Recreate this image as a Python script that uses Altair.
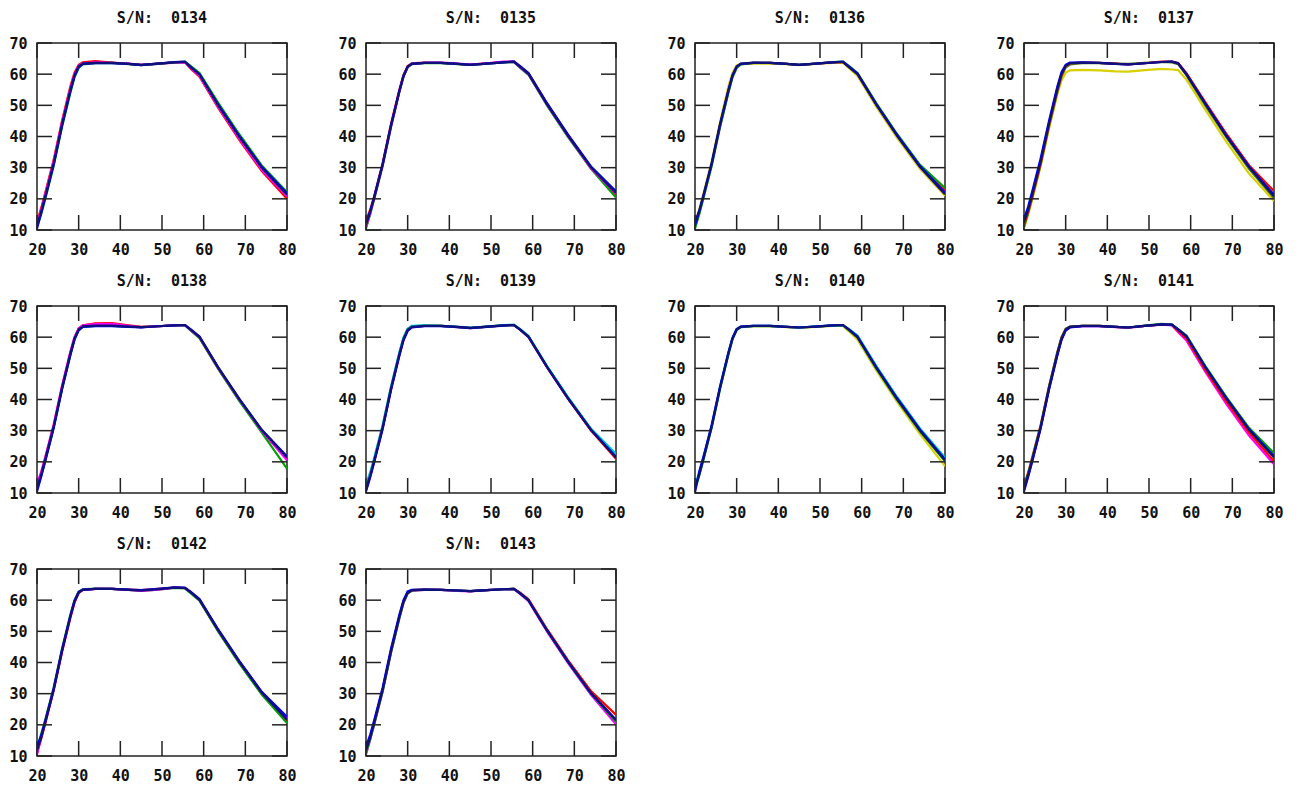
import altair as alt
import pandas as pd

# Shared temperature axis (x) sampling for every run
X_GRID = [20, 21, 22, 24, 26, 28, 29, 30, 31, 34, 38, 42, 45, 49, 53, 55.5, 57, 59, 63.5, 68.5, 74, 80]

RED, GREEN, BLUE, MAGENTA = "#ff0000", "#00a000", "#0000ff", "#ff00ff"
CYAN, YELLOW, NAVY, OLIVE = "#00c0d0", "#d8d000", "#10107a", "#4a7a10"

SN_0134 = [
    (RED,     [12.5, 17, 22, 32.5, 45, 56, 60.5, 63, 63.8, 64.2, 63.7, 63.3, 63.0, 63.4, 63.8, 63.9, 61.6, 59.2, 49.2, 39.0, 28.8, 20.0]),
    (MAGENTA, [12, 16.5, 21.5, 32, 44.5, 55.5, 60, 62.8, 63.5, 63.8, 63.6, 63.4, 63.0, 63.3, 63.7, 63.8, 61.8, 59.4, 49.5, 39.4, 29.2, 20.8]),
    (GREEN,   [11, 15, 20, 30.5, 43, 54, 59, 62, 63.1, 63.5, 63.6, 63.2, 62.9, 63.3, 63.8, 64.0, 62.5, 60.4, 50.8, 40.8, 30.6, 22.2]),
    (BLUE,    [10.5, 15.5, 20.5, 31, 43.5, 54.5, 59.3, 62.3, 63.3, 63.5, 63.5, 63.3, 62.9, 63.4, 63.9, 64.0, 62.2, 60.0, 50.2, 40.3, 30.2, 21.8]),
    (NAVY,    [11.5, 15.8, 20.8, 31.2, 43.8, 54.8, 59.6, 62.5, 63.4, 63.6, 63.6, 63.3, 63.0, 63.4, 63.8, 63.9, 62.1, 59.9, 50.0, 40.0, 29.9, 21.3]),
]
SN_0135 = [
    (RED,     [13, 16.5, 21, 31.5, 44, 55, 59.8, 62.6, 63.5, 63.7, 63.6, 63.3, 63.1, 63.5, 63.9, 64.0, 62.4, 60.2, 50.4, 40.4, 30.0, 21.0]),
    (GREEN,   [10.5, 15, 20, 30.5, 43, 54.2, 59.2, 62.2, 63.2, 63.5, 63.5, 63.2, 63.0, 63.4, 63.8, 63.9, 62.0, 59.8, 49.8, 39.8, 29.6, 20.4]),
    (MAGENTA, [11, 15.4, 20.4, 30.8, 43.2, 54.4, 59.3, 62.3, 63.4, 63.6, 63.7, 63.4, 63.1, 63.5, 64.0, 64.0, 62.2, 60.0, 50.1, 40.1, 29.8, 21.6]),
    (BLUE,    [12, 16, 20.8, 31.2, 43.6, 54.6, 59.5, 62.4, 63.3, 63.6, 63.6, 63.3, 63.0, 63.4, 63.8, 64.1, 62.6, 60.4, 50.6, 40.6, 30.4, 22.4]),
    (NAVY,    [11.8, 15.8, 20.6, 31, 43.5, 54.5, 59.4, 62.4, 63.3, 63.6, 63.6, 63.3, 63.0, 63.4, 63.8, 63.9, 62.3, 60.1, 50.2, 40.2, 30.1, 21.9]),
]
SN_0136 = [
    (YELLOW,  [12, 16.5, 21.5, 32, 44.5, 56, 60.5, 62.8, 63.2, 63.4, 63.4, 63.2, 62.9, 63.3, 63.6, 63.7, 61.8, 59.4, 49.6, 39.6, 29.6, 21.0]),
    (RED,     [11, 15.5, 20.5, 31, 43.2, 54.2, 59.2, 62.2, 63.2, 63.6, 63.6, 63.3, 63.0, 63.4, 63.8, 63.9, 62.3, 60.1, 50.3, 40.4, 30.4, 22.6]),
    (GREEN,   [10.5, 15, 20, 30.5, 43, 54, 59, 62, 63.1, 63.6, 63.6, 63.3, 63.0, 63.4, 63.9, 64.0, 62.6, 60.4, 50.7, 40.8, 30.9, 23.5]),
    (BLUE,    [11.5, 15.8, 20.8, 31.2, 43.6, 54.6, 59.5, 62.4, 63.3, 63.6, 63.6, 63.3, 63.0, 63.4, 63.8, 64.0, 62.4, 60.2, 50.4, 40.5, 30.5, 22.0]),
    (NAVY,    [12.5, 16.2, 21, 31.5, 44, 54.9, 59.7, 62.5, 63.4, 63.7, 63.6, 63.3, 63.0, 63.4, 63.8, 63.9, 62.2, 60.0, 50.2, 40.2, 30.2, 21.5]),
]
SN_0137 = [
    (YELLOW,  [10.5, 15, 19.8, 30.5, 42.5, 53.5, 58, 60.5, 61.2, 61.4, 61.2, 60.9, 60.8, 61.3, 61.7, 61.5, 61.3, 58.2, 48.6, 38.4, 28.1, 19.3]),
    (OLIVE,   [11, 15.5, 20.5, 31, 43.2, 54.3, 59.3, 62.1, 63.1, 63.5, 63.5, 63.4, 63.3, 63.6, 63.9, 63.8, 63.2, 59.6, 50.0, 39.9, 29.6, 20.2]),
    (RED,     [12, 16, 21, 31.5, 44, 55, 59.8, 62.6, 63.5, 63.7, 63.6, 63.4, 63.1, 63.5, 64.0, 64.0, 63.6, 60.3, 51.0, 41.0, 30.8, 22.5]),
    (BLUE,    [13.5, 17.5, 22.5, 33, 45, 56, 60.6, 63, 63.7, 63.8, 63.6, 63.3, 63.1, 63.5, 63.9, 64.0, 63.5, 60.0, 50.6, 40.5, 30.4, 21.3]),
    (NAVY,    [12.5, 16.5, 21.5, 32, 44.2, 55.2, 60, 62.7, 63.5, 63.7, 63.6, 63.3, 63.1, 63.5, 63.9, 64.0, 63.4, 59.9, 50.5, 40.3, 30.2, 20.8]),
]
SN_0138 = [
    (RED,     [12, 16.2, 21.2, 31.6, 44, 55, 59.8, 62.8, 63.8, 64.4, 64.5, 63.8, 63.3, 63.5, 63.8, 63.9, 62.1, 59.8, 49.9, 39.8, 29.7, 21.0]),
    (GREEN,   [11, 15.5, 20.5, 31, 43.3, 54.3, 59.3, 62.3, 63.3, 63.6, 63.6, 63.4, 63.2, 63.5, 63.8, 63.8, 62.0, 59.7, 49.8, 39.6, 29.3, 17.8]),
    (MAGENTA, [13, 16.8, 21.6, 32, 44.3, 55.3, 60, 62.8, 63.8, 64.2, 64.3, 63.6, 63.2, 63.5, 63.8, 63.9, 62.2, 60.0, 50.1, 40.1, 29.9, 20.5]),
    (BLUE,    [10.5, 15.2, 20.3, 30.8, 43.2, 54.2, 59.2, 62.2, 63.3, 63.5, 63.5, 63.3, 63.1, 63.5, 63.8, 63.9, 62.4, 60.2, 50.3, 40.3, 30.2, 21.8]),
    (NAVY,    [11.8, 15.9, 20.9, 31.3, 43.7, 54.7, 59.6, 62.5, 63.5, 63.7, 63.7, 63.4, 63.2, 63.5, 63.8, 63.9, 62.3, 60.1, 50.2, 40.3, 30.1, 21.4]),
]
SN_0139 = [
    (RED,     [11, 15.3, 20.3, 30.8, 43.2, 54.3, 59.2, 62.2, 63.2, 63.6, 63.6, 63.2, 62.9, 63.3, 63.8, 63.9, 62.3, 60.0, 50.2, 40.2, 30.0, 21.0]),
    (GREEN,   [12, 16, 21, 31.4, 43.8, 54.8, 59.7, 62.6, 63.5, 63.7, 63.6, 63.3, 63.0, 63.4, 63.8, 63.9, 62.5, 60.3, 50.5, 40.6, 30.5, 22.3]),
    (CYAN,    [12.8, 16.6, 21.4, 31.8, 44.2, 55.1, 59.9, 62.7, 63.6, 63.8, 63.6, 63.3, 63.0, 63.4, 63.9, 64.0, 62.6, 60.4, 50.6, 40.7, 30.6, 22.6]),
    (BLUE,    [10.5, 15, 20, 30.5, 43, 54, 59, 62, 63.1, 63.5, 63.5, 63.2, 62.9, 63.3, 63.7, 63.9, 62.4, 60.1, 50.3, 40.3, 30.2, 21.6]),
    (NAVY,    [11.5, 15.6, 20.6, 31.1, 43.5, 54.5, 59.4, 62.4, 63.3, 63.6, 63.6, 63.3, 63.0, 63.4, 63.8, 63.9, 62.4, 60.2, 50.4, 40.4, 30.3, 21.3]),
]
SN_0140 = [
    (YELLOW,  [11.5, 16, 21, 31.5, 43.8, 54.8, 59.6, 62.5, 63.3, 63.5, 63.5, 63.2, 63.0, 63.3, 63.6, 63.6, 61.8, 59.2, 49.3, 39.2, 28.9, 18.6]),
    (GREEN,   [11, 15.5, 20.5, 31, 43.3, 54.3, 59.3, 62.3, 63.2, 63.5, 63.5, 63.3, 63.1, 63.4, 63.7, 63.8, 62.2, 59.9, 50.0, 39.9, 29.8, 20.2]),
    (CYAN,    [12.5, 16.5, 21.3, 31.6, 44, 55, 59.8, 62.6, 63.4, 63.6, 63.6, 63.3, 63.1, 63.5, 63.8, 63.9, 62.6, 60.5, 50.8, 40.8, 30.7, 21.3]),
    (BLUE,    [10.2, 16.8, 21.5, 31.8, 44.1, 55, 59.8, 62.6, 63.4, 63.6, 63.6, 63.3, 63.1, 63.4, 63.8, 63.9, 62.4, 60.2, 50.4, 40.4, 30.3, 20.8]),
    (NAVY,    [12, 15.8, 20.8, 31.2, 43.6, 54.6, 59.5, 62.4, 63.3, 63.6, 63.6, 63.3, 63.1, 63.4, 63.8, 63.9, 62.3, 60.0, 50.2, 40.1, 30.0, 20.5]),
]
SN_0141 = [
    (MAGENTA, [11, 15.5, 20.5, 31, 43.4, 54.4, 59.3, 62.3, 63.2, 63.5, 63.5, 63.2, 63.0, 63.6, 64.0, 63.8, 61.6, 58.9, 48.9, 38.7, 28.4, 19.2]),
    (RED,     [12.5, 16.6, 21.5, 31.8, 44.2, 55.2, 60, 62.7, 63.4, 63.6, 63.6, 63.3, 63.1, 63.6, 64.0, 63.9, 62.0, 59.6, 49.6, 39.5, 29.4, 20.2]),
    (GREEN,   [12, 16.2, 21.2, 31.5, 44, 55, 59.8, 62.6, 63.3, 63.6, 63.6, 63.3, 63.1, 63.7, 64.3, 64.0, 62.6, 60.5, 50.8, 40.9, 30.9, 22.8]),
    (BLUE,    [10.5, 15.2, 20.2, 30.7, 43.1, 54.1, 59.1, 62.1, 63.1, 63.5, 63.5, 63.3, 63.1, 63.6, 64.1, 64.0, 62.5, 60.3, 50.5, 40.6, 30.5, 21.8]),
    (NAVY,    [11.5, 15.8, 20.8, 31.2, 43.7, 54.7, 59.5, 62.4, 63.3, 63.6, 63.6, 63.3, 63.1, 63.6, 64.1, 64.0, 62.4, 60.2, 50.3, 40.4, 30.3, 21.4]),
]
SN_0142 = [
    (RED,     [11, 15.5, 20.5, 31, 43.3, 54.3, 59.2, 62.3, 63.3, 63.6, 63.6, 63.4, 63.2, 63.6, 64.0, 63.9, 62.3, 60.0, 50.2, 40.1, 29.9, 21.2]),
    (GREEN,   [12.5, 17, 21.8, 32, 44.4, 55.3, 60, 62.8, 63.5, 63.7, 63.6, 63.3, 63.0, 63.4, 63.9, 63.8, 62.1, 59.8, 49.9, 39.8, 29.6, 20.6]),
    (MAGENTA, [10.5, 16, 21, 31.4, 43.8, 54.7, 59.6, 62.5, 63.3, 63.6, 63.6, 63.3, 63.0, 63.4, 64.0, 63.9, 62.5, 60.2, 50.4, 40.4, 30.3, 22.0]),
    (BLUE,    [13, 16.5, 21.3, 31.6, 44, 55, 59.8, 62.6, 63.4, 63.6, 63.6, 63.4, 63.2, 63.6, 64.1, 64.0, 62.6, 60.4, 50.6, 40.6, 30.5, 22.6]),
    (NAVY,    [11.8, 15.8, 20.8, 31.2, 43.6, 54.6, 59.5, 62.4, 63.3, 63.6, 63.6, 63.3, 63.1, 63.5, 64.0, 63.9, 62.4, 60.1, 50.3, 40.3, 30.2, 21.6]),
]
SN_0143 = [
    (RED,     [12, 16, 21, 31.4, 43.8, 54.8, 59.6, 62.5, 63.2, 63.4, 63.3, 63.1, 62.9, 63.2, 63.5, 63.6, 62.4, 60.3, 50.6, 40.7, 30.8, 23.2]),
    (MAGENTA, [10.5, 15.2, 20.2, 30.7, 43.1, 54.1, 59.1, 62.1, 63.0, 63.3, 63.3, 63.0, 62.8, 63.2, 63.5, 63.5, 61.9, 59.7, 49.8, 39.8, 29.6, 20.2]),
    (GREEN,   [11, 15.4, 20.4, 30.8, 43.2, 54.2, 59.2, 62.2, 63.1, 63.3, 63.3, 63.1, 62.9, 63.2, 63.5, 63.6, 62.1, 59.9, 50.1, 40.1, 30.0, 21.0]),
    (BLUE,    [13, 16.8, 21.6, 32, 44.4, 55.3, 60, 62.8, 63.3, 63.4, 63.3, 63.1, 62.9, 63.2, 63.5, 63.6, 62.2, 60.0, 50.2, 40.2, 30.1, 21.5]),
    (NAVY,    [11.8, 15.8, 20.8, 31.2, 43.6, 54.6, 59.5, 62.4, 63.2, 63.4, 63.3, 63.1, 62.9, 63.2, 63.5, 63.6, 62.2, 60.0, 50.2, 40.3, 30.2, 21.6]),
]

PANELS = [
    ("0134", SN_0134), ("0135", SN_0135), ("0136", SN_0136), ("0137", SN_0137),
    ("0138", SN_0138), ("0139", SN_0139), ("0140", SN_0140), ("0141", SN_0141),
    ("0142", SN_0142), ("0143", SN_0143),
]

X_TICKS = [20, 30, 40, 50, 60, 70, 80]
Y_TICKS = [10, 20, 30, 40, 50, 60, 70]

FONT = "DejaVu Sans Mono"
FONT_SIZE = 15
W, H = 250, 187
TICK = 15
TICK_COLOR = "#222"


def panel_frame(runs):
    rows = []
    for i, (color, ys) in enumerate(runs):
        if len(ys) != len(X_GRID):
            raise ValueError("run length mismatch")
        for x, y in zip(X_GRID, ys):
            rows.append({"run": i, "color": color, "x": x, "y": y})
    return pd.DataFrame(rows)


XS = alt.Scale(domain=[20, 80], nice=False, zero=False)
YS = alt.Scale(domain=[10, 70], nice=False, zero=False)
X_AXIS = alt.Axis(values=X_TICKS, ticks=False, labelPadding=12, labelOverlap=False, labelFlush=False)
Y_AXIS = alt.Axis(values=Y_TICKS, ticks=False, labelPadding=10, labelOverlap=False, labelFlush=False)
x_ticks = alt.Chart(pd.DataFrame({"v": X_TICKS}))
y_ticks = alt.Chart(pd.DataFrame({"v": Y_TICKS}))


def make_panel(sn, runs):
    lines = alt.Chart(panel_frame(runs)).mark_line(strokeWidth=2.2, clip=True).encode(
        x=alt.X("x:Q", scale=XS, title=None, axis=X_AXIS),
        y=alt.Y("y:Q", scale=YS, title=None, axis=Y_AXIS),
        color=alt.Color("color:N", scale=None),
        detail="run:N",
        order="run:Q",
    )
    # inward tick marks on all four edges of the frame
    tick_style = dict(color=TICK_COLOR, strokeWidth=1.5)
    bottom = x_ticks.mark_rule(**tick_style).encode(
        x=alt.X("v:Q", scale=XS, title=None, axis=X_AXIS), y=alt.value(H - TICK), y2=alt.value(H))
    top = x_ticks.mark_rule(**tick_style).encode(
        x=alt.X("v:Q", scale=XS, title=None, axis=X_AXIS), y=alt.value(0), y2=alt.value(TICK))
    left = y_ticks.mark_rule(**tick_style).encode(
        y=alt.Y("v:Q", scale=YS, title=None, axis=Y_AXIS), x=alt.value(0), x2=alt.value(TICK))
    right = y_ticks.mark_rule(**tick_style).encode(
        y=alt.Y("v:Q", scale=YS, title=None, axis=Y_AXIS), x=alt.value(W - TICK), x2=alt.value(W))
    return alt.layer(lines, bottom, top, left, right).properties(
        width=W, height=H,
        title=alt.TitleParams("S/N:\u00a0 " + sn, font=FONT, fontSize=FONT_SIZE, fontWeight="bold",
                              color="#111", anchor="middle", offset=10),
    )


panels = [make_panel(sn, runs) for sn, runs in PANELS]
rows = [alt.hconcat(*panels[i:i + 4], spacing=40) for i in range(0, len(panels), 4)]

chart = alt.vconcat(*rows, spacing=15).properties(
    padding={"left": 8, "top": 10, "right": 5, "bottom": 2},
    background="white",
).configure_view(
    stroke="#222", strokeWidth=1.5,
).configure_axis(
    domain=False, grid=False,
    labelFont=FONT, labelFontSize=FONT_SIZE, labelFontWeight="bold", labelColor="#111",
    labelFlush=False, labelOverlap=False, labelBound=False,
)

chart.save("out.html", embed_options={"renderer": "svg", "actions": False})
